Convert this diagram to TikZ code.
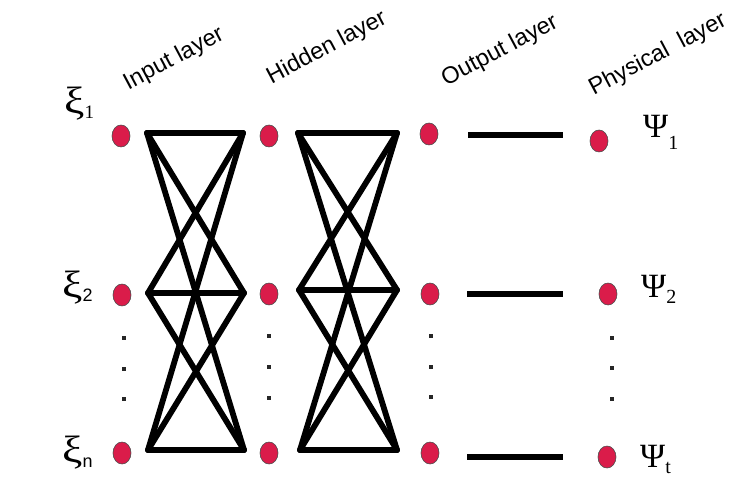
\documentclass[tikz,border=0pt]{standalone}
\usepackage{fontspec}
\setmainfont{Liberation Serif}
\newfontfamily\labfont{Liberation Sans}
\usetikzlibrary{shapes.geometric}
\definecolor{dotred}{RGB}{218,28,74}
\newcommand{\xibig}{\scalebox{1.2}[1]{\fontsize{38}{38}\selectfont ξ}}
\newcommand{\psibig}{{\fontsize{34}{34}\selectfont Ψ}}
\begin{document}
\begin{tikzpicture}[x=1pt,y=-1pt,
  unit/.style={ellipse,draw=black!70,line width=0.6pt,fill=dotred,minimum width=18pt,minimum height=22pt,inner sep=0pt},
  mesh/.style={line width=5.8pt,line join=round,line cap=round},
  bar/.style={line width=5.2pt},
  vdot/.style={fill=black!85,minimum size=4.5pt,inner sep=0pt,rectangle},
  layerlab/.style={font=\labfont\fontsize{23.5}{23.5}\selectfont,rotate=28,inner sep=0pt},
  sym/.style={inner sep=0pt,anchor=base west}]
\useasboundingbox (0,0) rectangle (733,478);
% units
\node[unit] (i1) at (121,136) {};
\node[unit] (i2) at (122,295) {};
\node[unit] (i3) at (122,453) {};
\node[unit] (h1) at (269,136) {};
\node[unit] (h2) at (269,294) {};
\node[unit] (h3) at (269,453) {};
\node[unit] (o1) at (429,134) {};
\node[unit] (o2) at (430,294) {};
\node[unit] (o3) at (430,453) {};
\node[unit] (p1) at (599,141) {};
\node[unit] (p2) at (608,294) {};
\node[unit] (p3) at (607,457) {};
% dots
\foreach \n/\x/\y in {a/124/338,b/124/369,c/124/399,d/269/336,e/269/367,f/269/398,g/431/336,h/431/367,k/431/397,m/612/338,n/612/368,q/612/399}
  \node[vdot] (dot\n) at (\x,\y) {};
% mesh 1
\coordinate (al1) at (147,133); \coordinate (al2) at (148,293); \coordinate (al3) at (148,450);
\coordinate (ar1) at (243,133); \coordinate (ar2) at (244,293); \coordinate (ar3) at (244,450);
\foreach \l in {1,2,3}{\foreach \r in {1,2,3}{\draw[mesh] (al\l) -- (ar\r);}}
% mesh 2
\coordinate (bl1) at (298,133); \coordinate (bl2) at (299,290); \coordinate (bl3) at (300,450);
\coordinate (br1) at (397,133); \coordinate (br2) at (397,290); \coordinate (br3) at (397,450);
\foreach \l in {1,2,3}{\foreach \r in {1,2,3}{\draw[mesh] (bl\l) -- (br\r);}}
% bars
\coordinate (c1) at (468,135); \coordinate (d1) at (563,135);
\coordinate (c2) at (467,294); \coordinate (d2) at (563,294);
\coordinate (c3) at (467,457); \coordinate (d3) at (563,457);
\draw[bar] (c1) -- (d1);
\draw[bar] (c2) -- (d2);
\draw[bar] (c3) -- (d3);
% layer labels
\node[layerlab] (L1) at (174,59) {Input layer};
\node[layerlab] (L2) at (327,48) {Hidden layer};
\node[layerlab] (L3) at (500,51) {Output layer};
\node[layerlab] (L4) at (658,55) {Physical\ \ layer};
% symbols
\node[sym] (x1) at (64,114) {\xibig\raisebox{-5pt}{\fontsize{19}{19}\selectfont 1}};
\node[sym] (x2) at (62,297) {\xibig\raisebox{-5pt}{\labfont\fontsize{18}{18}\selectfont 2}};
\node[sym] (x3) at (62,462) {\xibig\raisebox{-5pt}{\labfont\fontsize{18}{18}\selectfont n}};
\node[sym] (y1) at (643,138) {\psibig\raisebox{-12pt}{\fontsize{20}{20}\selectfont 1}};
\node[sym] (y2) at (641,297) {\psibig\raisebox{-6pt}{\fontsize{20}{20}\selectfont 2}};
\node[sym] (y3) at (640,467) {\psibig\raisebox{-6pt}{\fontsize{20}{20}\selectfont t}};
\end{tikzpicture}
\end{document}
